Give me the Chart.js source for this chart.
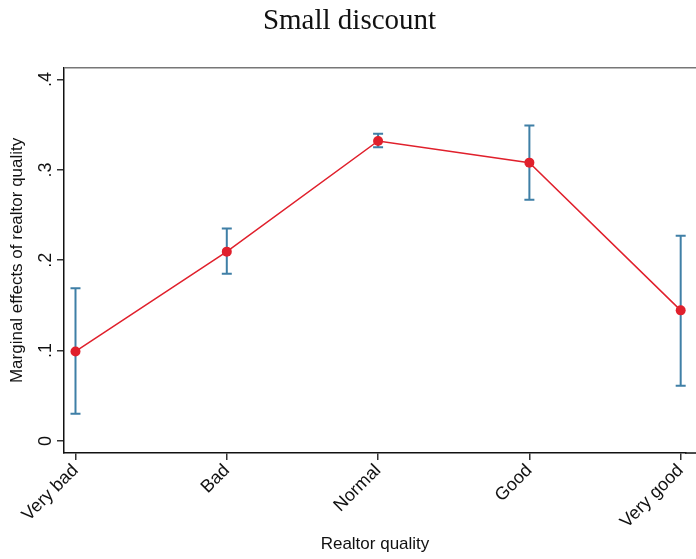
<!DOCTYPE html>
<html>
<head>
<meta charset="utf-8">
<script src="https://cdn.jsdelivr.net/npm/chart.js@4.4.1/dist/chart.umd.min.js"></script>
<style>
html,body{margin:0;padding:0;background:#fff;}
#wrap{width:696px;height:559px;}
</style>
</head>
<body>
<div id="wrap"><canvas id="c" width="696" height="559"></canvas></div>
<script>
const categories = ["Very bad", "Bad", "Normal", "Good", "Very good"];
const estimates = [0.099, 0.2095, 0.332, 0.308, 0.1445];
const ciLower = [0.030, 0.185, 0.325, 0.267, 0.061];
const ciUpper = [0.169, 0.235, 0.340, 0.349, 0.227];
const yTicks = [0, 0.1, 0.2, 0.3, 0.4];

const points = estimates.map((v, i) => ({x: i + 1, y: v}));

const errorBars = {
  id: 'errorBars',
  beforeDatasetsDraw(chart) {
    const {ctx, scales: {x, y}} = chart;
    ctx.save();
    ctx.strokeStyle = '#3f7fa6';
    ctx.lineWidth = 2;
    for (let i = 0; i < estimates.length; i++) {
      const px = x.getPixelForValue(i + 1);
      const lo = y.getPixelForValue(ciLower[i]);
      const hi = y.getPixelForValue(ciUpper[i]);
      ctx.beginPath();
      ctx.moveTo(px, lo); ctx.lineTo(px, hi);
      ctx.moveTo(px - 5, lo); ctx.lineTo(px + 5, lo);
      ctx.moveTo(px - 5, hi); ctx.lineTo(px + 5, hi);
      ctx.stroke();
    }
    ctx.restore();
  },
  afterDraw(chart) {
    const {ctx, chartArea, width} = chart;
    ctx.save();
    ctx.lineWidth = 1.5;
    ctx.strokeStyle = '#777';
    ctx.beginPath();
    ctx.moveTo(chartArea.left, chartArea.top);
    ctx.lineTo(width, chartArea.top);
    ctx.stroke();
    ctx.strokeStyle = '#111';
    ctx.beginPath();
    ctx.moveTo(chartArea.right - 1, chartArea.bottom);
    ctx.lineTo(width, chartArea.bottom);
    ctx.stroke();
    ctx.restore();
  }
};

new Chart(document.getElementById('c'), {
  type: 'line',
  data: {
    datasets: [{
      data: points,
      borderColor: '#e0202c',
      backgroundColor: '#e0202c',
      borderWidth: 1.5,
      pointRadius: 5,
      pointBorderWidth: 0,
      pointBackgroundColor: '#e0202c',
      tension: 0
    }]
  },
  options: {
    responsive: false,
    animation: false,
    layout: {padding: {left: 3, right: 0, top: 0, bottom: 0}},
    plugins: {
      legend: {display: false},
      tooltip: {enabled: false},
      title: {
        display: true,
        text: 'Small discount',
        color: '#111',
        font: {family: '"Liberation Serif", serif', size: 29, weight: 'normal'},
        padding: {top: 4, bottom: 29}
      }
    },
    scales: {
      x: {
        type: 'linear',
        min: 0.924,
        max: 5.035,
        afterBuildTicks(scale) { scale.ticks = categories.map((c, i) => ({value: i + 1})); },
        ticks: {
          callback: (v) => categories[Math.round(v) - 1],
          minRotation: 45, maxRotation: 45,
          color: '#111',
          font: {family: '"Liberation Sans", Arial, sans-serif', size: 18},
          padding: 0,
          autoSkip: false
        },
        grid: {drawOnChartArea: false, drawTicks: true, tickLength: 7, color: '#333', lineWidth: 1.5},
        border: {color: '#111', width: 1.5},
        title: {display: true, text: 'Realtor quality', color: '#111',
          font: {family: '"Liberation Sans", Arial, sans-serif', size: 17}, padding: {top: 2}}
      },
      y: {
        type: 'linear',
        min: -0.0134,
        max: 0.413,
        afterBuildTicks(scale) { scale.ticks = yTicks.map(v => ({value: v})); },
        ticks: {
          callback: (v) => v === 0 ? '0' : String(v.toFixed(1)).replace(/^0/, ''),
          minRotation: 90, maxRotation: 90,
          crossAlign: 'center',
          color: '#111',
          font: {family: '"Liberation Sans", Arial, sans-serif', size: 18},
          padding: 3
        },
        grid: {drawOnChartArea: false, drawTicks: true, tickLength: 7, color: '#333', lineWidth: 1.5},
        border: {color: '#111', width: 1.5},
        title: {display: true, text: 'Marginal effects of realtor quality', color: '#111',
          font: {family: '"Liberation Sans", Arial, sans-serif', size: 17}, padding: {bottom: 2}}
      }
    }
  },
  plugins: [errorBars]
});
</script>
</body>
</html>
